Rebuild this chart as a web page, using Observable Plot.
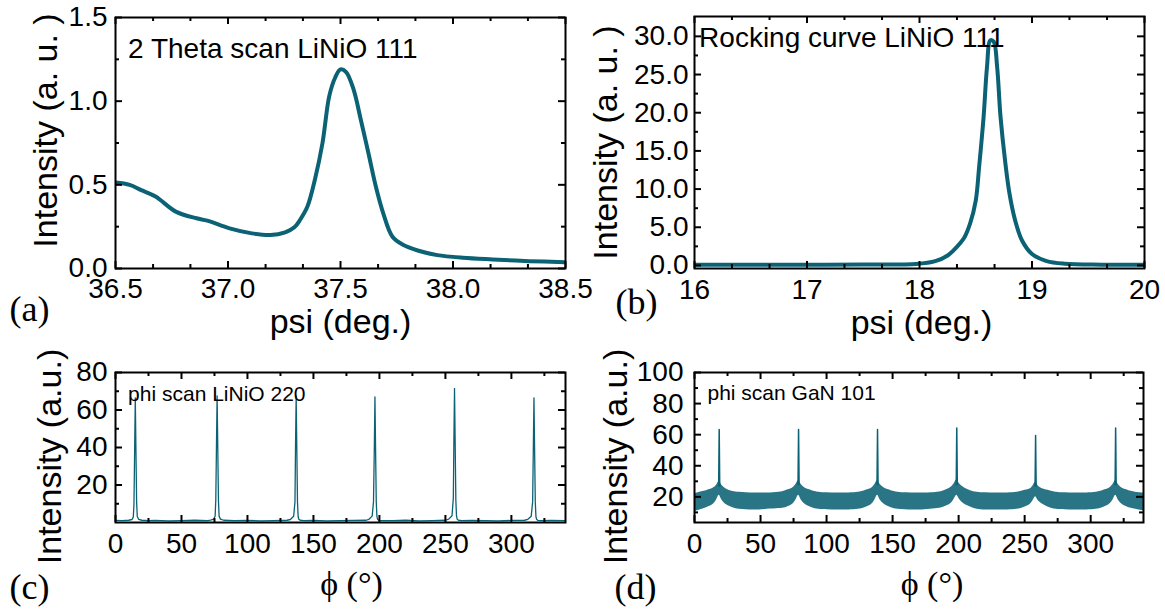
<!DOCTYPE html>
<html>
<head>
<meta charset="utf-8">
<script src="https://cdn.jsdelivr.net/npm/d3@7"></script>
<script src="https://cdn.jsdelivr.net/npm/@observablehq/plot@0.6"></script>
<style>
  body { margin: 0; background: #fff; }
  #wrap { position: relative; width: 1165px; height: 611px; overflow: hidden; background: #fff; }
</style>
</head>
<body>
<div id="wrap"></div>
<script>
// ---------- Panel (a): 2 Theta scan ----------
const aPsi = [36.5, 36.563, 36.612, 36.678, 36.768, 36.86, 36.908, 37.007, 37.106, 37.188, 37.254, 37.295, 37.32, 37.353, 37.386, 37.42, 37.45, 37.476, 37.5, 37.525, 37.558, 37.59, 37.624, 37.657, 37.69, 37.731, 37.78, 37.847, 37.93, 38.044, 38.176, 38.34, 38.5];
const aInt = [0.514, 0.50, 0.47, 0.43, 0.34, 0.30, 0.286, 0.24, 0.21, 0.20, 0.216, 0.246, 0.29, 0.37, 0.53, 0.75, 1.03, 1.14, 1.19, 1.174, 1.07, 0.89, 0.69, 0.49, 0.33, 0.19, 0.14, 0.106, 0.08, 0.064, 0.054, 0.044, 0.038];
const aXTicks = [36.5, 37.0, 37.5, 38.0, 38.5];
const aXLabels = ["36.5", "37.0", "37.5", "38.0", "38.5"];
const aXMinor = [36.667, 36.833, 37.167, 37.333, 37.667, 37.833, 38.167, 38.333];
const aYTicks = [0, 0.5, 1.0, 1.5];
const aYLabels = ["0.0", "0.5", "1.0", "1.5"];
const aYMinor = [0.25, 0.75, 1.25];

// ---------- Panel (b): Rocking curve ----------
const bPsi = [16, 16.5, 17, 17.5, 17.97, 18.14, 18.25, 18.33, 18.4, 18.45, 18.5, 18.53, 18.57, 18.6, 18.63, 18.66, 18.69, 18.72, 18.76, 18.8, 18.85, 18.91, 19.0, 19.13, 19.29, 19.62, 20];
const bInt = [0.08, 0.09, 0.1, 0.12, 0.2, 0.57, 1.3, 2.4, 3.7, 5.5, 8.5, 12.9, 19.5, 26, 29.5, 29.3, 26, 19.5, 13.8, 9.4, 5.9, 3.3, 1.5, 0.57, 0.22, 0.1, 0.08];
const bXTicks = [16, 17, 18, 19, 20];
const bXLabels = ["16", "17", "18", "19", "20"];
const bXMinor = [16.333, 16.667, 17.333, 17.667, 18.333, 18.667, 19.333, 19.667];
const bYTicks = [0, 5, 10, 15, 20, 25, 30];
const bYLabels = ["0.0", "5.0", "10.0", "15.0", "20.0", "25.0", "30.0"];
const bYMinor = [2.5, 7.5, 12.5, 17.5, 22.5, 27.5];

// ---------- Panel (c): phi scan LiNiO 220 ----------
const cPhi = [
  0, 5, 10, 12.5, 13.5, 14, 14.5, 15, 15.5, 16, 16.5, 17.5, 20,
  25, 30, 40, 50, 60, 70, 72, 74.5, 75.5, 76, 76.5, 77, 77.5, 78, 78.5, 79.5, 82,
  90, 100, 110, 120, 130, 132.5, 135, 136, 136.4, 136.9, 137.4, 137.9, 138.4, 138.9, 139.9, 142.5,
  150, 160, 170, 180, 190, 192, 194.5, 195.5, 196.1, 196.6, 197.1, 197.6, 198.1, 198.6, 199.6, 202,
  210, 220, 230, 240, 250, 252.5, 255, 256, 256.4, 256.9, 257.4, 257.9, 258.4, 258.9, 259.9, 262.5,
  270, 280, 290, 300, 310, 312.5, 315, 316.1, 316.6, 317.1, 317.6, 318.1, 318.6, 319.1, 320.1, 322.5,
  330, 341
];
const cInt = [
  1.1, 1.0, 1.2, 1.6, 3, 10, 38, 66.5, 38, 11, 3.2, 1.7, 1.2,
  1.0, 1.1, 0.9, 1.0, 1.2, 1.0, 1.3, 1.8, 3.5, 12, 40, 67.5, 40, 12, 3.4, 1.8, 1.2,
  1.0, 1.1, 0.9, 1.0, 1.2, 1.6, 3.3, 11, 39, 67.5, 39, 11, 3.2, 1.7, 1.2, 1.0,
  1.1, 0.9, 1.0, 1.1, 1.2, 1.7, 3.4, 11, 38, 67, 38, 11, 3.3, 1.7, 1.1, 1.0,
  1.0, 1.2, 0.9, 1.0, 1.2, 1.8, 3.6, 13, 42, 71.5, 42, 12, 3.5, 1.8, 1.2, 1.0,
  1.1, 1.0, 0.9, 1.1, 1.2, 1.7, 3.3, 11, 38, 66.5, 38, 11, 3.2, 1.7, 1.1, 1.0,
  1.1, 1.0
];
const cXTicks = [0, 50, 100, 150, 200, 250, 300];
const cXLabels = ["0", "50", "100", "150", "200", "250", "300"];
const cXMinor = [25, 75, 125, 175, 225, 275, 325];
const cYTicks = [20, 40, 60, 80];
const cYLabels = ["20", "40", "60", "80"];
const cYMinor = [10, 30, 50, 70];

// ---------- Panel (d): phi scan GaN 101 ----------
const dPhi = [0, 4, 9, 14, 16.7, 18.7, 20.7, 24, 29, 34, 45, 55, 64, 69, 74, 76.8, 78.8, 80.8, 84, 89, 94, 108, 124, 129, 134, 136.6, 138.6, 140.6, 144, 149, 154, 168, 184, 189, 194, 196.6, 198.6, 200.6, 204, 209, 214, 228, 244, 249, 254, 256.3, 258.3, 260.3, 264, 269, 274, 288, 304, 309, 314, 316.9, 318.9, 320.9, 324, 329, 334, 340];
const dLow = [10.5, 11.5, 13, 15, 18, 21, 18, 15, 13, 12, 11.5, 12, 12.5, 13, 15, 18, 21, 18, 15, 13, 12, 11.5, 12, 13, 15, 18, 21, 18, 15, 13, 12, 11.5, 12.5, 13.5, 15.5, 18.5, 21, 18.5, 15.5, 13.5, 12, 11.5, 12, 13, 15, 17.5, 20, 17.5, 15, 13, 12, 11.5, 12, 13, 15, 18, 21, 18, 15, 13, 12, 11];
const dHigh = [22, 23, 24, 25.5, 27.5, 30, 27.5, 25, 23.5, 23, 22.5, 22.5, 23, 24, 25.5, 28, 30.5, 28, 25.5, 24, 23, 22.5, 23, 24, 25.5, 28, 30.5, 28, 25.5, 24, 23, 22.5, 23, 24, 26, 28.5, 31, 28.5, 26, 24, 23, 22.5, 23, 24, 25, 27, 29.5, 27, 25, 24, 23, 22.5, 23, 24, 25.5, 28, 30.5, 28, 25.5, 24, 23, 22.5];
const dSpikePhi = [18.3, 18.7, 19.1, 78.4, 78.8, 79.2, 138.2, 138.6, 139.0, 198.2, 198.6, 199.0, 257.9, 258.3, 258.7, 318.5, 318.9, 319.3];
const dSpikeVal = [27, 63.3, 27, 28, 63.3, 28, 28, 63.3, 28, 28, 64.3, 28, 27, 59.4, 27, 28, 64.3, 28];
const dSpikeId = [1, 1, 1, 2, 2, 2, 3, 3, 3, 4, 4, 4, 5, 5, 5, 6, 6, 6];
const dXTicks = [0, 50, 100, 150, 200, 250, 300];
const dXLabels = ["0", "50", "100", "150", "200", "250", "300"];
const dXMinor = [25, 75, 125, 175, 225, 275, 325];
const dYTicks = [20, 40, 60, 80, 100];
const dYLabels = ["20", "40", "60", "80", "100"];
const dYMinor = [10, 30, 50, 70, 90];

// ---------- shared styling ----------
const teal = "#0b6275";
const SANS = "Liberation Sans, Arial, sans-serif";
const SERIF = "Liberation Serif, Times New Roman, serif";

function makePanel(cfg) {
  const [mt, mr, mb, ml] = cfg.margin;
  const iw = cfg.width - ml - mr, ih = cfg.height - mt - mb;
  const MAJ = 7, MIN = 4;
  const tk = {stroke: "black", strokeWidth: 2};
  const marks = [
    ...cfg.marks,
    Plot.tickX(cfg.xMajor, {x: d => d, insetTop: ih - MAJ, ...tk}),
    Plot.tickX(cfg.xMajor, {x: d => d, insetBottom: ih - MAJ, ...tk}),
    Plot.tickX(cfg.xMinor, {x: d => d, insetTop: ih - MIN, ...tk}),
    Plot.tickX(cfg.xMinor, {x: d => d, insetBottom: ih - MIN, ...tk}),
    Plot.tickY(cfg.yMajor, {y: d => d, insetRight: iw - MAJ, ...tk}),
    Plot.tickY(cfg.yMajor, {y: d => d, insetLeft: iw - MAJ, ...tk}),
    Plot.tickY(cfg.yMinor, {y: d => d, insetRight: iw - MIN, ...tk}),
    Plot.tickY(cfg.yMinor, {y: d => d, insetLeft: iw - MIN, ...tk}),
    Plot.frame({stroke: "black", strokeWidth: 2}),
    Plot.text(cfg.xMajor, {x: d => d, text: (d, i) => cfg.xLabels[i], frameAnchor: "bottom", dy: cfg.xTickDy, fontSize: 28, fontFamily: SANS, lineAnchor: "middle", textAnchor: "middle", fill: "black"}),
    Plot.text(cfg.yMajor, {y: d => d, text: (d, i) => cfg.yLabels[i], frameAnchor: "left", dx: -cfg.yTickGap, fontSize: 28, fontFamily: SANS, lineAnchor: "middle", textAnchor: "end", fill: "black"}),
    Plot.text([cfg.xTitle], {text: d => d, frameAnchor: "bottom", dx: cfg.xTitlePos[0], dy: cfg.xTitlePos[1], fontSize: 34, fontFamily: cfg.xTitleFont, lineAnchor: "middle", textAnchor: "middle", fill: "black"}),
    Plot.text([cfg.yTitle], {text: d => d, frameAnchor: "left", rotate: -90, dx: cfg.yTitlePos[0], dy: cfg.yTitlePos[1], fontSize: 34, fontFamily: SANS, lineAnchor: "middle", textAnchor: "middle", fill: "black"}),
    Plot.text([cfg.letter], {text: d => d, frameAnchor: "bottom-left", dx: cfg.letterPos[0], dy: cfg.letterPos[1], fontSize: 36, fontFamily: SERIF, lineAnchor: "middle", textAnchor: "start", fill: "black"}),
    Plot.text([cfg.note], {text: d => d, frameAnchor: "top-left", dx: cfg.notePos[0], dy: cfg.notePos[1], fontSize: cfg.noteSize, fontFamily: SANS, lineAnchor: "middle", textAnchor: "start", fill: "black"})
  ];
  const svg = Plot.plot({
    width: cfg.width,
    height: cfg.height,
    marginTop: mt, marginRight: mr, marginBottom: mb, marginLeft: ml,
    x: {domain: cfg.xDomain, axis: null},
    y: {domain: cfg.yDomain, axis: null},
    style: {background: "transparent", overflow: "visible", fontFamily: SANS, color: "black"},
    marks
  });
  svg.style.position = "absolute";
  svg.style.left = cfg.left + "px";
  svg.style.top = cfg.top + "px";
  svg.style.maxWidth = "none";
  document.getElementById("wrap").appendChild(svg);
}

const aData = aPsi.map((x, i) => ({x, y: aInt[i]}));
const bData = bPsi.map((x, i) => ({x, y: bInt[i]}));
const cData = cPhi.map((x, i) => ({x, y: cInt[i]}));
const dBand = dPhi.map((x, i) => ({x, lo: dLow[i], hi: dHigh[i]}));
const dSpikes = dSpikePhi.map((x, i) => ({x, y: dSpikeVal[i], id: dSpikeId[i]}));

makePanel({
  left: 0, top: 0, width: 580, height: 340, margin: [17, 15, 72, 115],
  xDomain: [36.5, 38.5], yDomain: [0, 1.5],
  xMajor: aXTicks, xLabels: aXLabels, xMinor: aXMinor,
  yMajor: aYTicks, yLabels: aYLabels, yMinor: aYMinor,
  xTickDy: 21, yTickGap: 8,
  xTitle: "psi (deg.)", xTitleFont: SANS, xTitlePos: [0, 54],
  yTitle: "Intensity (a. u. )", yTitlePos: [-69, -12.5],
  letter: "(a)", letterPos: [-106, 40.5],
  note: "2 Theta scan LiNiO 111", notePos: [12.6, 31.3], noteSize: 28,
  marks: [Plot.line(aData, {x: "x", y: "y", stroke: teal, strokeWidth: 4, curve: "catmull-rom", clip: true})]
});

makePanel({
  left: 580, top: 0, width: 585, height: 340, margin: [16, 21, 72, 114],
  xDomain: [16, 20], yDomain: [-0.4, 32.6],
  xMajor: bXTicks, xLabels: bXLabels, xMinor: bXMinor,
  yMajor: bYTicks, yLabels: bYLabels, yMinor: bYMinor,
  xTickDy: 22, yTickGap: 6,
  xTitle: "psi (deg.)", xTitleFont: SANS, xTitlePos: [2, 55],
  yTitle: "Intensity (a. u. )", yTitlePos: [-88, 0],
  letter: "(b)", letterPos: [-79, 33.5],
  note: "Rocking curve LiNiO 111", notePos: [4.6, 21.7], noteSize: 28,
  marks: [Plot.line(bData, {x: "x", y: "y", stroke: teal, strokeWidth: 4, curve: "catmull-rom", clip: true})]
});

makePanel({
  left: 0, top: 340, width: 580, height: 271, margin: [32, 15, 89, 115],
  xDomain: [0, 341], yDomain: [0, 80],
  xMajor: cXTicks, xLabels: cXLabels, xMinor: cXMinor,
  yMajor: cYTicks, yLabels: cYLabels, yMinor: cYMinor,
  xTickDy: 22, yTickGap: 8,
  xTitle: "ϕ (°)", xTitleFont: SERIF, xTitlePos: [11, 62],
  yTitle: "Intensity (a.u.)", yTitlePos: [-65, 9],
  letter: "(c)", letterPos: [-106, 64.5],
  note: "phi scan LiNiO 220", notePos: [12.6, 21.3], noteSize: 21,
  marks: [Plot.line(cData, {x: "x", y: "y", stroke: teal, strokeWidth: 1.3, clip: true})]
});

makePanel({
  left: 580, top: 340, width: 585, height: 271, margin: [32, 22, 89, 114],
  xDomain: [0, 340], yDomain: [3.5, 100],
  xMajor: dXTicks, xLabels: dXLabels, xMinor: dXMinor,
  yMajor: dYTicks, yLabels: dYLabels, yMinor: dYMinor,
  xTickDy: 22, yTickGap: 11,
  xTitle: "ϕ (°)", xTitleFont: SERIF, xTitlePos: [13, 62],
  yTitle: "Intensity (a.u.)", yTitlePos: [-78, 9],
  letter: "(d)", letterPos: [-80, 64.5],
  note: "phi scan GaN 101", notePos: [13, 20.6], noteSize: 21,
  marks: [
    Plot.areaY(dBand, {x: "x", y1: "lo", y2: "hi", fill: teal, fillOpacity: 0.88, curve: "catmull-rom", clip: true}),
    Plot.line(dSpikes, {x: "x", y: "y", z: "id", stroke: teal, strokeWidth: 1.5, clip: true})
  ]
});
</script>
</body>
</html>
